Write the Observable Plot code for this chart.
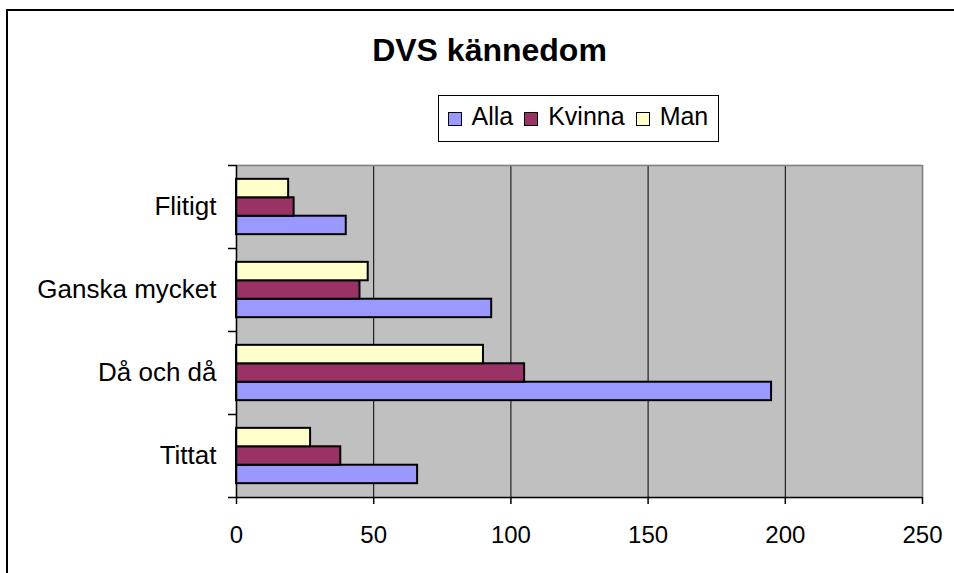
<!DOCTYPE html>
<html>
<head>
<meta charset="utf-8">
<script src="https://cdn.jsdelivr.net/npm/d3@7"></script>
<script src="https://cdn.jsdelivr.net/npm/@observablehq/plot@0.6"></script>
<style>
  html, body { margin: 0; padding: 0; background: #fff; overflow: hidden; }
  #chart { position: relative; width: 954px; height: 573px; overflow: hidden; font-family: "Liberation Sans", Arial, sans-serif; color: #000; }
  #border { position: absolute; left: 6px; top: 9px; width: 1200px; height: 800px; border-left: 2px solid #000; border-top: 2px solid #000; }
  #title { position: absolute; left: 0; width: 979px; top: 34px; text-align: center; font-size: 32px; line-height: 32px; font-weight: bold; }
  #legend { position: absolute; left: 438px; top: 95px; width: 281px; height: 47px; box-sizing: border-box; border: 1.5px solid #000; background: #fff; font-size: 25px; line-height: 40px; padding-left: 8.5px; white-space: nowrap; }
  #legend .sw { display: inline-block; width: 14px; height: 14px; box-sizing: border-box; border: 1.5px solid #000; vertical-align: -1px; margin-right: 10px; }
  #legend .lab { margin-right: 11px; }
  #plot { position: absolute; left: 0; top: 150px; }
</style>
</head>
<body>
<div id="chart">
  <div id="border"></div>
  <div id="title"></div>
  <div id="legend"></div>
  <div id="plot"></div>
</div>
<script>
const titleText = "DVS kännedom";
const categories = ["Flitigt", "Ganska mycket", "Då och då", "Tittat"];
const series = ["Alla", "Kvinna", "Man"];
const alla = [40, 93, 195, 66];
const kvinna = [21, 45, 105, 38];
const man = [19, 48, 90, 27];
const xTicks = [0, 50, 100, 150, 200, 250];
const colors = ["#9999FF", "#993366", "#FFFFCC"];

const values = {Alla: alla, Kvinna: kvinna, Man: man};
const data = categories.flatMap((c, i) => series.map(s => ({category: c, series: s, value: values[s][i]})));

document.getElementById("title").textContent = titleText;
const legend = document.getElementById("legend");
series.forEach((s, i) => {
  const sw = document.createElement("span");
  sw.className = "sw";
  sw.style.background = colors[i];
  legend.appendChild(sw);
  const lab = document.createElement("span");
  lab.className = "lab";
  lab.textContent = s;
  legend.appendChild(lab);
});

const W = 954, H = 423, mt = 15, mb = 76, ml = 236, mr = 32;
const bw = (H - mt - mb) / categories.length;

const chart = Plot.plot({
  width: W,
  height: H,
  marginTop: mt,
  marginBottom: mb,
  marginLeft: ml,
  marginRight: mr,
  style: {fontFamily: "'Liberation Sans', Arial, sans-serif", fontSize: "24px", color: "#000", background: "transparent", overflow: "visible"},
  x: {domain: [0, 250], label: null},
  y: {domain: ["Man", "Kvinna", "Alla"], paddingInner: 0, paddingOuter: 0.75, round: false, axis: null, label: null},
  fy: {domain: categories, padding: 0, round: true, label: null},
  color: {domain: series, range: colors},
  marks: [
    Plot.frame({fill: "#C0C0C0", stroke: "#C0C0C0", strokeWidth: 1.5}),
    Plot.ruleX(xTicks.slice(1, -1), {stroke: "#000", strokeWidth: 1}),
    Plot.ruleX([xTicks[xTicks.length - 1]], {stroke: "#808080", strokeWidth: 1.5}),
    Plot.gridFy({ticks: [categories[0]], dy: -bw / 2, stroke: "#808080", strokeOpacity: 1, strokeWidth: 1.5}),
    Plot.barX(data, {x: "value", y: "series", fy: "category", fill: "series", stroke: "#000", strokeWidth: 2}),
    Plot.ruleX([0], {stroke: "#000", strokeWidth: 1.5}),
    Plot.gridFy({ticks: [categories[categories.length - 1]], dy: bw / 2, stroke: "#000", strokeOpacity: 1, strokeWidth: 1.5}),
    Plot.axisFy({anchor: "left", tickSize: 0, tickPadding: 20, fontSize: 26, label: null}),
    Plot.axisFy({anchor: "left", ticks: categories, text: null, tickSize: 8, dy: -bw / 2, strokeWidth: 1.5, label: null}),
    Plot.axisFy({anchor: "left", ticks: [categories[categories.length - 1]], text: null, tickSize: 8, dy: bw / 2, strokeWidth: 1.5, label: null}),
    Plot.axisX({ticks: xTicks, tickSize: 7, tickPadding: 21, fontSize: 24, strokeWidth: 1.5, label: null})
  ]
});
document.getElementById("plot").appendChild(chart);
</script>
</body>
</html>
